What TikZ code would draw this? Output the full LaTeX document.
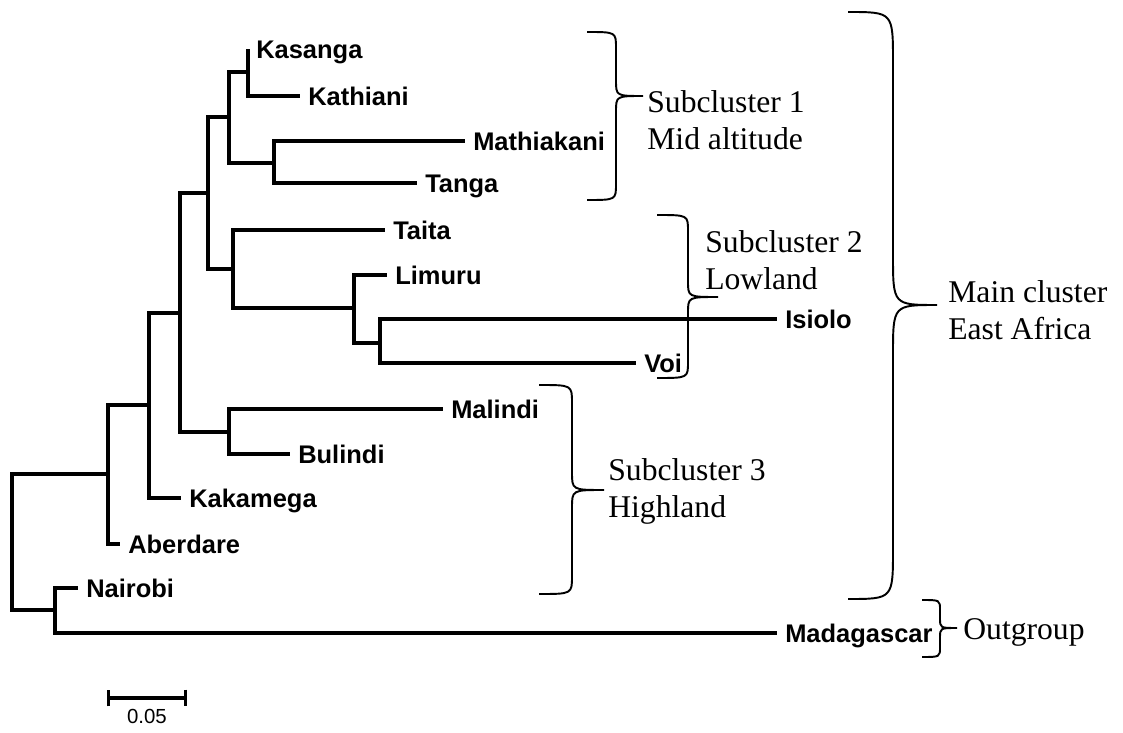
\documentclass[tikz,border=0pt]{standalone}
\usepackage{fontspec}
\setmainfont{Liberation Serif}
\newfontfamily\taxonfont{Liberation Sans}
\usetikzlibrary{positioning,arrows.meta}

% 花括号: 左端x, 竖线x, 尖端x, 上端y, 尖端y, 下端y, 弯曲大小
\newcommand{\clusterbrace}[7]{%
	\draw[clbrace] (#1,#4) .. controls (#2,#4) .. (#2,#4+#7) -- (#2,#5-#7)
		.. controls (#2,#5) .. (#3,#5) .. controls (#2,#5) .. (#2,#5+#7)
		-- (#2,#6-#7) .. controls (#2,#6) .. (#1,#6);}

\begin{document}
\begin{tikzpicture}[x=0.02cm, y=-0.02cm,
			% 树枝的粗线
			branch/.style={line width=1.9pt, line join=miter},
			% 看不见的分支点
			point/.style={coordinate},
			% 物种名字
			taxon/.style={anchor=west, inner xsep=4.5pt, inner ysep=0pt, text height=10.3pt, text depth=0pt,
				font=\taxonfont\bfseries\fontsize{14.5}{16}\selectfont},
			% 括号和旁边的说明
			clbrace/.style={line width=1.1pt},
			clustertext/.style={anchor=west, align=left, inner sep=0pt, font=\fontsize{18}{21}\selectfont},
			% 比例尺
			scalebar/.style={line width=1.9pt, {Bar[width=9.6pt]}-{Bar[width=9.6pt]}},
			scaletext/.style={inner sep=0pt, font=\taxonfont\fontsize{11.6}{13}\selectfont}
		]
		\useasboundingbox (0,0) rectangle (1123,733);

		%Nodes
		\node[point]            (root)          at (12,542)         {};
		\node[point]            (ea)            at (108,474)        {};
		\node[point]            (ea2)           at (149,405)        {};
		\node[point]            (ea3)           at (180,313)        {};
		\node[point]            (upper)         at (208,193)        {};
		\node[point]            (mid)           at (229,117)        {};
		\node[point]            (kk)            at (248,72)         {};
		\node[point]            (mt)            at (274,163)        {};
		\node[point]            (low)           at (233,269)        {};
		\node[point]            (li)            at (354,308)        {};
		\node[point]            (iv)            at (380,343)        {};
		\node[point]            (high)          at (229,432)        {};
		\node[point]            (out)           at (55,610)         {};

		\node[taxon]            (kasanga)       at (248,49)         {Kasanga};
		\node[taxon]            (kathiani)      at (300,96)         {Kathiani};
		\node[taxon]            (mathiakani)    at (465,141)        {Mathiakani};
		\node[taxon]            (tanga)         at (417,183)        {Tanga};
		\node[taxon]            (taita)         at (385,230)        {Taita};
		\node[taxon]            (limuru)        at (387,275)        {Limuru};
		\node[taxon]            (isiolo)        at (777,319)        {Isiolo};
		\node[taxon]            (voi)           at (636,363)        {Voi};
		\node[taxon]            (malindi)       at (443,409)        {Malindi};
		\node[taxon]            (bulindi)       at (290,454)        {Bulindi};
		\node[taxon]            (kakamega)      at (181,498)        {Kakamega};
		\node[taxon]            (aberdare)      at (120,544)        {Aberdare};
		\node[taxon]            (nairobi)       at (78,588)         {Nairobi};
		\node[taxon]            (madagascar)    at (777,633)        {Madagascar};

		%Lines
		\draw[branch] (root)    |-      (ea);
		\draw[branch] (root)    |-      (out);
		\draw[branch] (ea)      |-      (ea2);
		\draw[branch] (ea)      |-      (aberdare.west);
		\draw[branch] (ea2)     |-      (ea3);
		\draw[branch] (ea2)     |-      (kakamega.west);
		\draw[branch] (ea3)     |-      (upper);
		\draw[branch] (ea3)     |-      (high);
		\draw[branch] (upper)   |-      (mid);
		\draw[branch] (upper)   |-      (low);
		\draw[branch] (mid)     |-      (kk);
		\draw[branch] (mid)     |-      (mt);
		\draw[branch] (kk)      |-      (kasanga.west);
		\draw[branch] (kk)      |-      (kathiani.west);
		\draw[branch] (mt)      |-      (mathiakani.west);
		\draw[branch] (mt)      |-      (tanga.west);
		\draw[branch] (low)     |-      (taita.west);
		\draw[branch] (low)     |-      (li);
		\draw[branch] (li)      |-      (limuru.west);
		\draw[branch] (li)      |-      (iv);
		\draw[branch] (iv)      |-      (isiolo.west);
		\draw[branch] (iv)      |-      (voi.west);
		\draw[branch] (high)    |-      (malindi.west);
		\draw[branch] (high)    |-      (bulindi.west);
		\draw[branch] (out)     |-      (nairobi.west);
		\draw[branch] (out)     |-      (madagascar.west);

		% 括号
		\clusterbrace{587}{616}{643}{32}{96}{200}{16}
		\clusterbrace{657}{688}{718}{215}{297}{378}{16}
		\clusterbrace{539}{572}{604}{385}{490}{594}{18}
		\clusterbrace{848}{893}{937}{12}{305}{599}{50}
		\clusterbrace{922}{940}{957}{600}{628}{657}{10}

		\node[clustertext]      (sub1)          at (647,120)        {Subcluster 1\\Mid altitude};
		\node[clustertext]      (sub2)          at (705,260)        {Subcluster 2\\Lowland};
		\node[clustertext]      (sub3)          at (608,491)        {Subcluster 3\\Highland};
		\node[clustertext]      (maincl)        at (948,310)        {Main cluster\\East Africa};
		\node[clustertext]      (outgroup)      at (963,632)        {Outgroup};

		% 比例尺
		\node[point]            (barl)          at (107,698)        {};
		\node[point]            (barm)          at (147,698)        {};
		\node[point]            (barr)          at (187,698)        {};
		\draw[scalebar] (barl)  --      (barr);
		\node[scaletext]        (barlabel)      [below=6pt of barm] {0.05};
	\end{tikzpicture}
\end{document}
